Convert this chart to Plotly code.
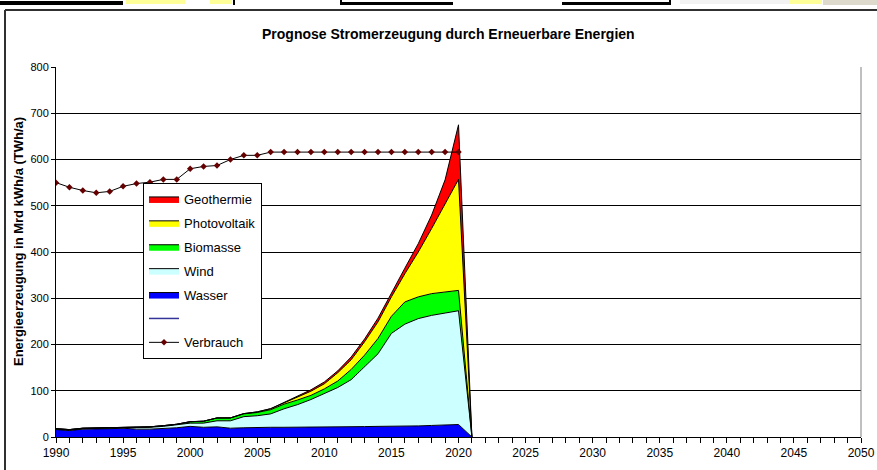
import plotly.graph_objects as go

years = list(range(1990, 2022))
years_verbrauch = list(range(1990, 2021))

wasser = [16, 14, 17, 17, 18, 19, 17, 17, 18, 20, 23, 21, 22, 19, 20, 21, 21, 21, 21, 21,
          21.5, 22, 22, 22.5, 23, 23, 24, 24, 25, 26, 27, 0]
wind = [1, 1, 1, 1.5, 2, 2, 3, 4, 5, 6, 7, 9, 13, 16, 24, 25, 29, 40, 49, 60,
        72.5, 85, 102, 129.5, 157, 201, 220, 232, 238, 242, 246, 0]
biomasse = [1, 1, 1, 1, 1, 1, 1, 1, 1.5, 1.5, 3, 4, 6, 6, 6, 7, 9, 10, 10, 9,
            10, 14, 22, 25, 33, 37, 48, 47, 47, 46, 44, 0]
photovoltaik = [0, 0, 0, 0, 0, 0, 0, 0, 0, 0.1, 0.1, 0.2, 0.3, 0.4, 0.6, 1.3, 2.2, 3.1, 7, 9,
                11, 18, 21, 29, 36, 42, 61, 97, 141, 191, 240, 0]
geothermie = [0, 0, 0, 0, 0, 0, 0, 0, 0, 0, 0, 0, 0, 0, 0, 0, 0, 0.5, 1, 3,
              4, 4, 6, 6, 8, 9, 12, 18, 29, 51, 118, 0]
verbrauch = [550, 540, 533, 528, 531, 542, 548, 551, 557, 557, 580, 585, 587, 600, 609, 609,
             616, 616, 616, 616, 616, 616, 616, 616, 616, 616, 616, 616, 616, 616, 616]
leer = [None] * len(years)

W, H = 877, 470
L, R, T, B = 56, 861, 67, 437
PW, PH = R - L, B - T


def px(x):
    return (x - L) / PW


def py(y):
    return (B - y) / PH


FONT = "Liberation Sans, Arial, sans-serif"

fig = go.Figure()

areas = [
    ("Wasser", wasser, "#0000ff", 5),
    ("Wind", wind, "#ccffff", 4),
    ("Biomasse", biomasse, "#00ff00", 3),
    ("Photovoltaik", photovoltaik, "#ffff00", 2),
    ("Geothermie", geothermie, "#ff0000", 1),
]
for name, vals, col, rank in areas:
    fig.add_trace(go.Scatter(
        x=years, y=vals, name=name, stackgroup="one", mode="lines",
        line=dict(color="#000000", width=1), fillcolor=col,
        legendrank=rank, legendgroup=name,
    ))

fig.add_trace(go.Scatter(
    x=years, y=leer, name=" ", mode="lines",
    line=dict(color="#333399", width=1.5), legendrank=6, legendgroup="leer",
))

fig.add_trace(go.Scatter(
    x=years_verbrauch, y=verbrauch, name="Verbrauch", mode="lines+markers",
    line=dict(color="#000000", width=1),
    marker=dict(symbol="diamond", size=5, color="#660000"),
    legendrank=7, legendgroup="verbrauch",
))

shapes = []
# plot area right border
shapes.append(dict(type="line", xref="paper", yref="paper", x0=1, x1=1, y0=0, y1=1,
                   line=dict(color="#808080", width=1)))
# outer chart frame
shapes.append(dict(type="line", xref="paper", yref="paper", x0=px(5), x1=px(5),
                   y0=py(10), y1=py(470), line=dict(color="#303030", width=2)))
shapes.append(dict(type="line", xref="paper", yref="paper", x0=px(5), x1=px(877),
                   y0=py(10), y1=py(10), line=dict(color="#303030", width=2)))
# spreadsheet strip on top
strip = [
    (0, 123, 1, 5, "#000000"),
    (126, 185, 0, 4, "#ffff99"),
    (210, 232, 0, 4, "#ffff99"),
    (233, 235, 0, 5, "#000000"),
    (340, 342, 0, 5, "#000000"),
    (342, 453, 2, 5, "#000000"),
    (562, 670, 2, 5, "#000000"),
    (669, 671, 0, 5, "#000000"),
    (680, 790, 0, 4, "#f2f2f2"),
    (790, 822, 0, 4, "#ffff99"),
    (823, 877, 0, 5, "#ddd9cc"),
]
for x0, x1, y0, y1, c in strip:
    shapes.append(dict(type="rect", xref="paper", yref="paper", x0=px(x0), x1=px(x1),
                       y0=py(y1), y1=py(y0), line=dict(width=0), fillcolor=c))

annotations = [
    dict(text="<b>Prognose Stromerzeugung durch Erneuerbare Energien</b>", xref="paper",
         yref="paper", x=px(448), y=py(34), showarrow=False, xanchor="center",
         yanchor="middle", font=dict(family=FONT, size=14, color="#000000")),
    dict(text="<b>Energieerzeugung in Mrd kWh/a (TWh/a)</b>", xref="paper", yref="paper",
         x=px(18), y=py(242), showarrow=False, textangle=-90, xanchor="center",
         yanchor="middle", font=dict(family=FONT, size=13, color="#000000")),
]

fig.update_layout(
    width=W, height=H,
    margin=dict(l=L, r=W - R, t=T, b=H - B, pad=0, autoexpand=False),
    paper_bgcolor="#ffffff", plot_bgcolor="#ffffff",
    font=dict(family=FONT, size=11, color="#000000"),
    showlegend=True,
    legend=dict(
        x=px(143), y=py(183), xanchor="left", yanchor="top",
        bgcolor="#ffffff", bordercolor="#000000", borderwidth=1,
        font=dict(family=FONT, size=13, color="#000000"),
        traceorder="grouped", tracegroupgap=4,
    ),
    shapes=shapes,
    annotations=annotations,
    xaxis=dict(
        range=[1990, 2050], tickmode="linear", tick0=1990, dtick=5, automargin=False,
        showgrid=False, zeroline=False, showline=True, linecolor="#000000", linewidth=1,
        ticks="outside", ticklen=5, tickcolor="#000000", tickwidth=1,
        minor=dict(dtick=1, tick0=1990, ticks="outside", ticklen=5, tickcolor="#000000",
                   showgrid=False),
        tickfont=dict(family=FONT, size=12, color="#000000"),
    ),
    yaxis=dict(
        range=[0, 800], tickmode="linear", tick0=0, dtick=100, automargin=False,
        showgrid=True, gridcolor="#000000", gridwidth=1,
        zeroline=False, showline=True, linecolor="#000000", linewidth=1,
        ticks="outside", ticklen=4, tickcolor="#000000",
        tickfont=dict(family=FONT, size=11, color="#000000"),
    ),
)

fig.write_html("out.html")
